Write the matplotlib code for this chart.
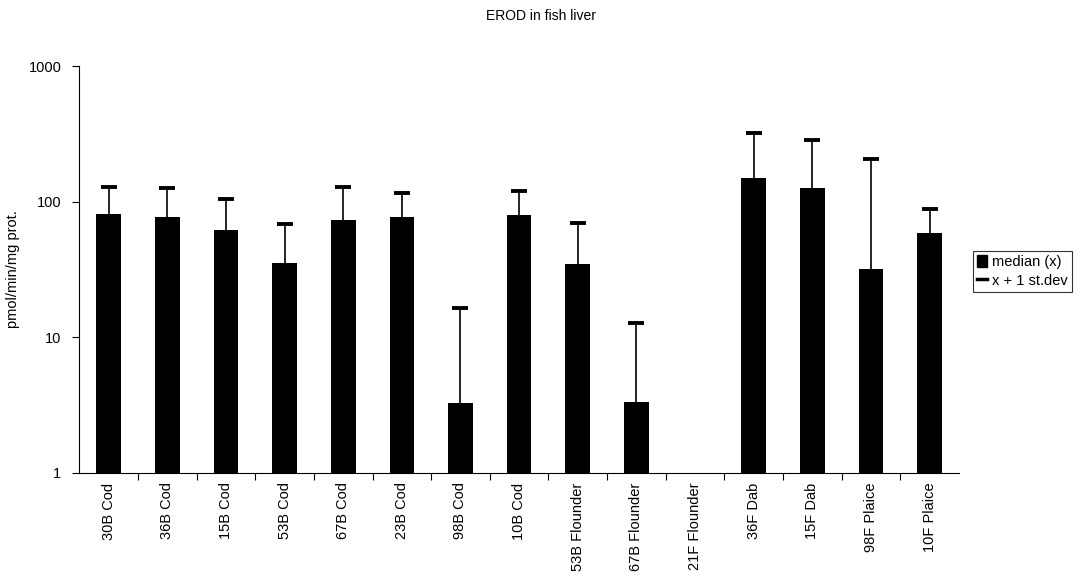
import numpy as np
import matplotlib.pyplot as plt
from matplotlib.patches import Patch
from matplotlib.lines import Line2D

plt.rcParams['font.family'] = ['Liberation Sans', 'DejaVu Sans']

stations = ['30B Cod', '36B Cod', '15B Cod', '53B Cod', '67B Cod', '23B Cod', '98B Cod', '10B Cod',
            '53B Flounder', '67B Flounder', '21F Flounder', '36F Dab', '15F Dab', '98F Plaice', '10F Plaice']
median = [81.5, 77, 61.5, 35.1, 73.6, 77.5, 3.28, 79.8, 34.5, 3.32, np.nan, 150, 125.6, 32, 58.7]
upper = [128, 126, 105, 68.8, 128, 116, 16.3, 120, 70, 12.7, np.nan, 321, 284, 207, 88.3]

median = np.array(median)
upper = np.array(upper)
x = np.arange(len(stations))

fig = plt.figure(figsize=(10.82, 5.86), dpi=100)
ax = fig.add_axes([0.0733, 0.1934, 0.8130, 0.6935])

ok = ~np.isnan(median)
ax.bar(x[ok], median[ok], width=0.42, color='black', zorder=2)
# only the upper half of the error bar, with a cap at the top
ax.vlines(x[ok], median[ok], upper[ok], color='black', linewidth=1.2, zorder=3)
ax.plot(x[ok], upper[ok], ls='none', marker='_', markersize=12, mew=2.8, color='black', zorder=3)

ax.set_yscale('log')
ax.set_ylim(1, 1000)
ax.set_xlim(-0.5, len(stations) - 0.5)
ax.set_yticks([1, 10, 100, 1000])
ax.set_yticklabels(['1', '10', '100', '1000'])
ax.yaxis.set_minor_locator(plt.NullLocator())
ax.tick_params(axis='y', length=5, width=0.8, labelsize=10.5, direction='out', pad=8)

ax.set_xticks(x)
ax.set_xticklabels(stations, rotation=90, fontsize=10.5)
ax.tick_params(axis='x', which='major', length=0, pad=7)
ax.set_xticks(np.arange(0.5, len(stations) - 0.5, 1), minor=True)
ax.tick_params(axis='x', which='minor', length=5, width=0.8, direction='out')

for s in ['top', 'right']:
    ax.spines[s].set_visible(False)
for s in ['left', 'bottom']:
    ax.spines[s].set_linewidth(0.8)

ax.set_ylabel('pmol/min/mg prot.', fontsize=10.5, labelpad=6)
fig.suptitle('EROD in fish liver', fontsize=10, y=0.985)

handles = [Patch(facecolor='black', edgecolor='black'),
           Line2D([0], [0], color='black', linewidth=2.5)]
leg = fig.legend(handles, ['median (x)', 'x + 1 st.dev'], loc='upper left',
                 bbox_to_anchor=(0.899, 0.572), fontsize=10.5, frameon=True, fancybox=False,
                 handlelength=0.7, handleheight=0.9, handletextpad=0.3, borderpad=0.3,
                 labelspacing=0.3, borderaxespad=0)
leg.get_frame().set_edgecolor('black')
leg.get_frame().set_linewidth(0.8)

plt.savefig('out.png', dpi=100)
